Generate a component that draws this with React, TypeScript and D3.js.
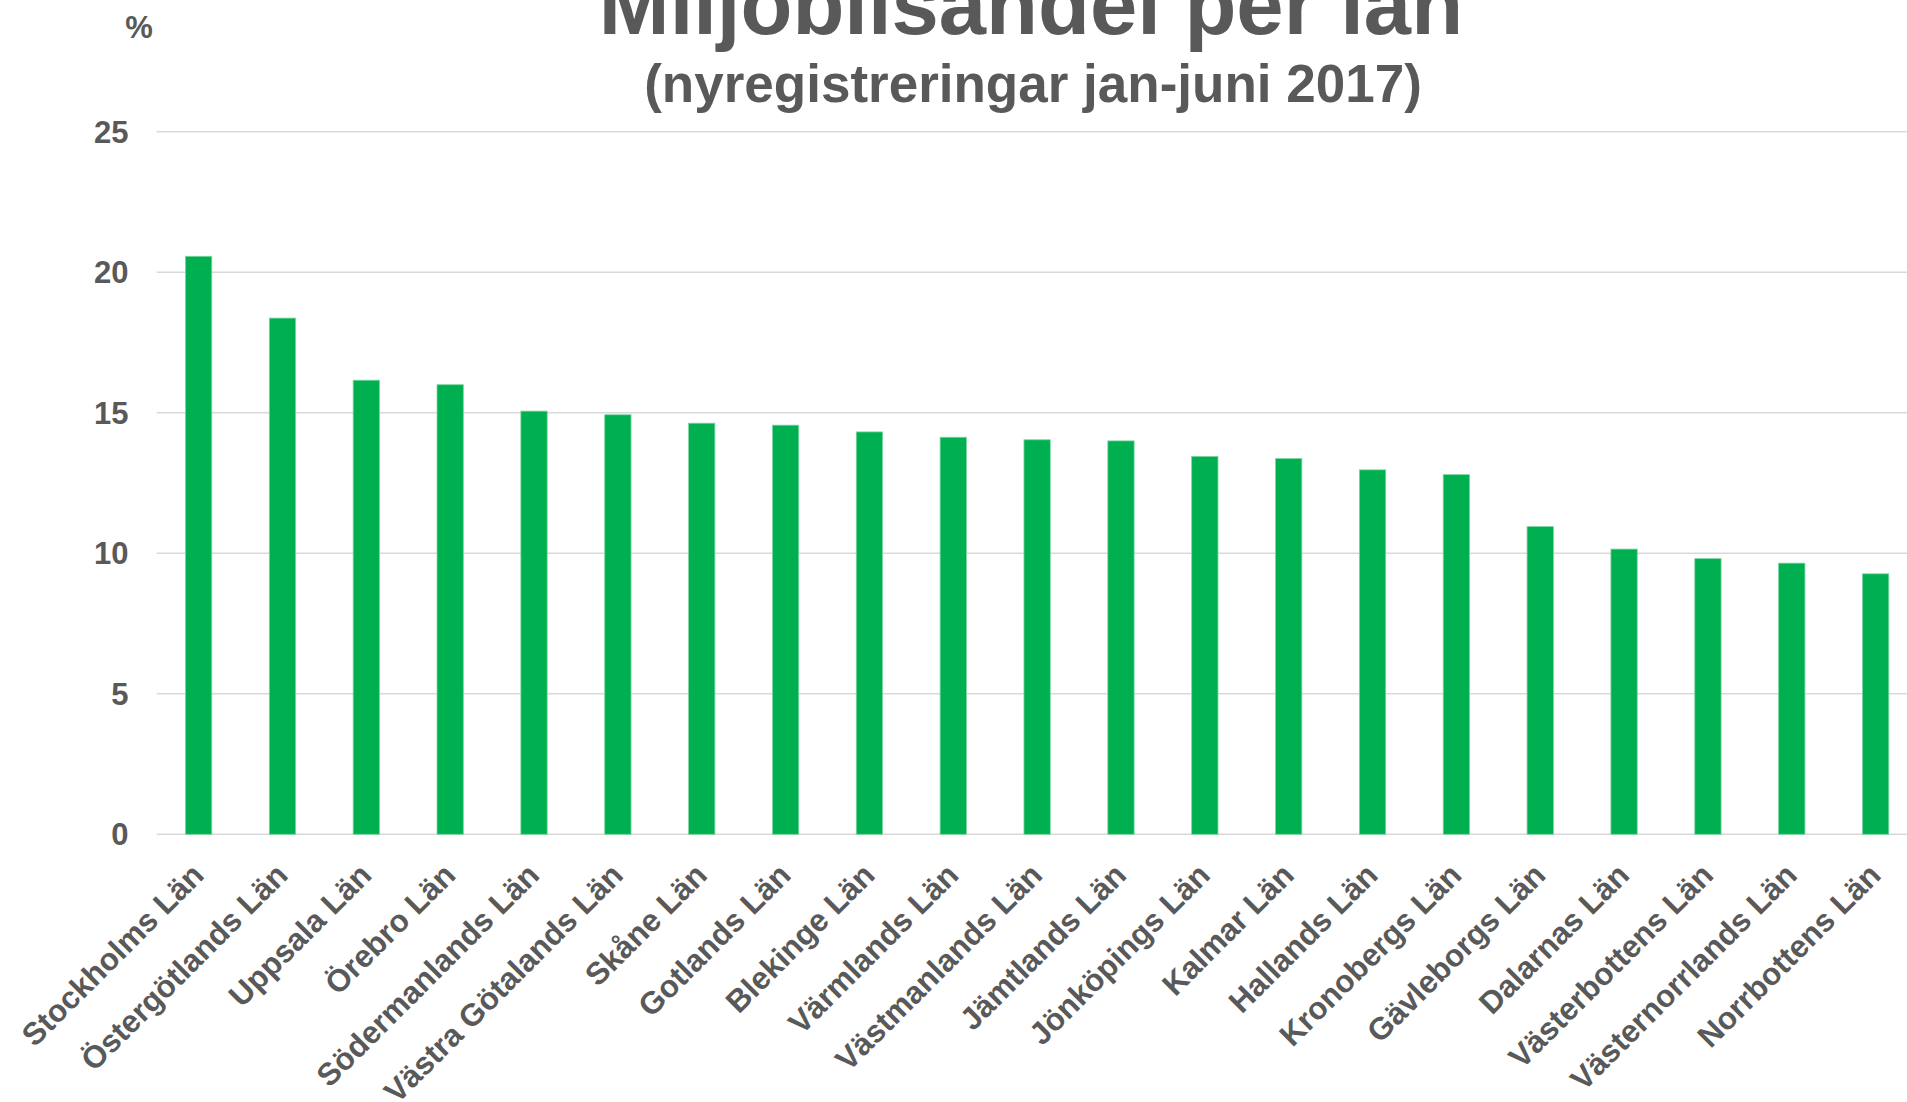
import React from "react";
import * as d3 from "d3";

const categories = [
  "Stockholms Län",
  "Östergötlands Län",
  "Uppsala Län",
  "Örebro Län",
  "Södermanlands Län",
  "Västra Götalands Län",
  "Skåne Län",
  "Gotlands Län",
  "Blekinge Län",
  "Värmlands Län",
  "Västmanlands Län",
  "Jämtlands Län",
  "Jönköpings Län",
  "Kalmar Län",
  "Hallands Län",
  "Kronobergs Län",
  "Gävleborgs Län",
  "Dalarnas Län",
  "Västerbottens Län",
  "Västernorrlands Län",
  "Norrbottens Län",
];

const values = [
  20.57, 18.37, 16.16, 16.0, 15.06, 14.93, 14.63, 14.56, 14.32, 14.13, 14.04,
  14.0, 13.45, 13.37, 12.97, 12.8, 10.95, 10.15, 9.81, 9.65, 9.27,
];

const yTicks = [0, 5, 10, 15, 20, 25];

const title = "Miljöbilsandel per län";
const subtitle = "(nyregistreringar jan-juni 2017)";
const yUnit = "%";

const W = 1907;
const H = 1102;
const FONT = "'Liberation Sans', Arial, Helvetica, sans-serif";
const TEXT = "#595959";
const GRID = "#d9d9d9";
const BAR = "#00B050";

export default function App() {
  const x = d3
    .scaleBand<string>()
    .domain(categories)
    .range([156.7, 156.7 + 21 * 83.85])
    .paddingInner(0.686)
    .paddingOuter(0.343);
  const y = d3.scaleLinear().domain([0, 25]).range([834.3, 131.8]);

  return (
    <svg
      width={W}
      height={H}
      style={{ position: "absolute", left: 0, top: 0, background: "#fff" }}
      fontFamily={FONT}
    >
      <rect x={0} y={0} width={W} height={H} fill="#fff" />
      {yTicks.map((t) => (
        <g key={t}>
          <line
            x1={156.7}
            x2={W + 20}
            y1={y(t)}
            y2={y(t)}
            stroke={GRID}
            strokeWidth={1.5}
          />
          <text
            x={128.5}
            y={y(t) + 11}
            textAnchor="end"
            fontSize={31}
            fontWeight="bold"
            fill={TEXT}
          >
            {t}
          </text>
        </g>
      ))}
      <text
        x={139}
        y={38}
        textAnchor="middle"
        fontSize={31}
        fontWeight="bold"
        fill={TEXT}
      >
        {yUnit}
      </text>
      {categories.map((c, i) => (
        <rect
          key={c}
          x={x(c)!}
          y={y(values[i])}
          width={x.bandwidth()}
          height={y(0) - y(values[i])}
          fill={BAR}
          stroke="#7dd6a2"
          strokeWidth={0.8}
        />
      ))}
      {categories.map((c) => {
        const cx = x(c)! + x.bandwidth() / 2 + 7;
        const cy = 877;
        return (
          <text
            key={c + "l"}
            x={cx}
            y={cy}
            transform={`rotate(-45 ${cx} ${cy})`}
            textAnchor="end"
            fontSize={31.3}
            fontWeight="bold"
            fill={TEXT}
          >
            {c}
          </text>
        );
      })}
      <text
        x={1031}
        y={34}
        textAnchor="middle"
        fontSize={85}
        fontWeight="bold"
        fill={TEXT}
      >
        {title}
      </text>
      <text
        x={1033}
        y={102}
        textAnchor="middle"
        fontSize={53}
        fontWeight="bold"
        fill={TEXT}
      >
        {subtitle}
      </text>
    </svg>
  );
}
